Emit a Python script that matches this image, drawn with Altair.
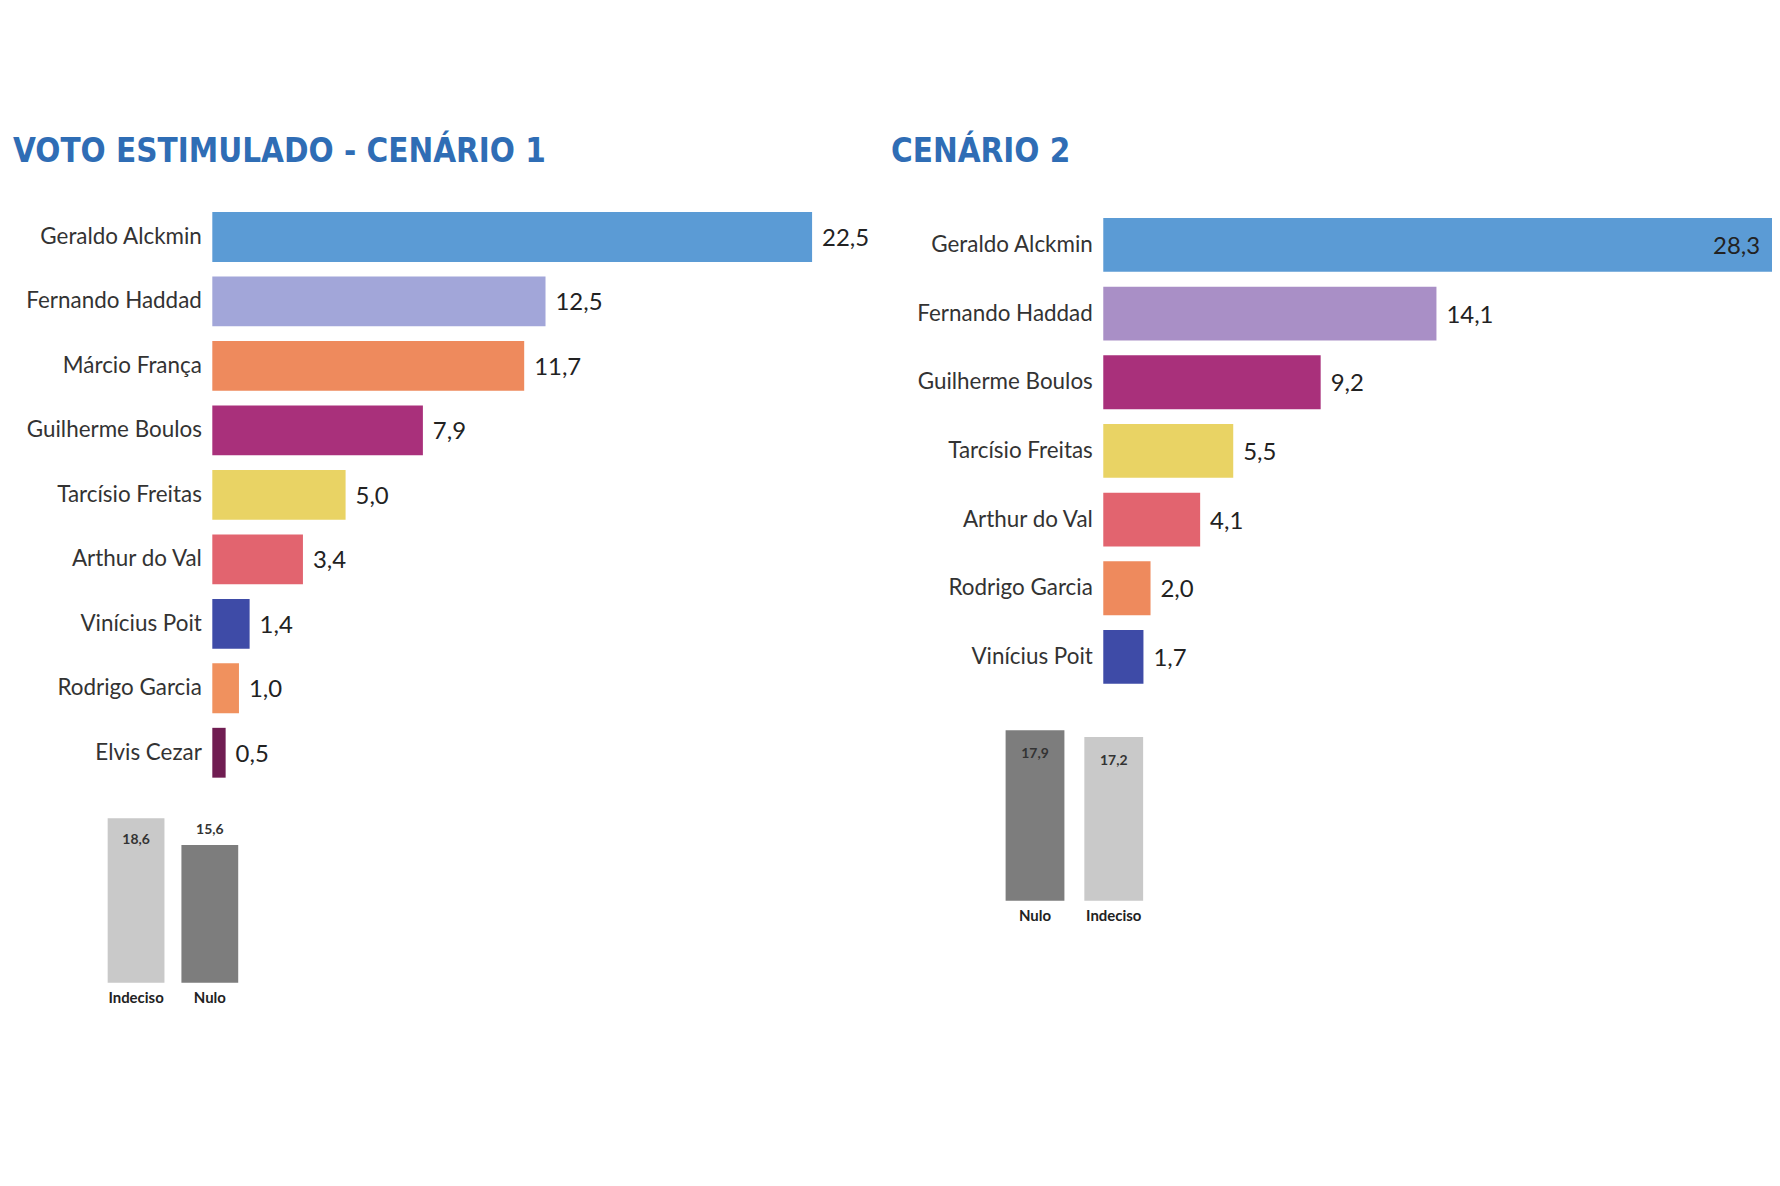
import altair as alt
import pandas as pd

# ---------------- data ----------------
title1 = "VOTO ESTIMULADO - CENÁRIO 1"
title2 = "CENÁRIO 2"

c1_names = ["Geraldo Alckmin", "Fernando Haddad", "Márcio França", "Guilherme Boulos",
            "Tarcísio Freitas", "Arthur do Val", "Vinícius Poit", "Rodrigo Garcia", "Elvis Cezar"]
c1_values = [22.5, 12.5, 11.7, 7.9, 5.0, 3.4, 1.4, 1.0, 0.5]
c1_other_names = ["Indeciso", "Nulo"]
c1_other_values = [18.6, 15.6]

c2_names = ["Geraldo Alckmin", "Fernando Haddad", "Guilherme Boulos", "Tarcísio Freitas",
            "Arthur do Val", "Rodrigo Garcia", "Vinícius Poit"]
c2_values = [28.3, 14.1, 9.2, 5.5, 4.1, 2.0, 1.7]
c2_other_names = ["Nulo", "Indeciso"]
c2_other_values = [17.9, 17.2]

# ---------------- styles ----------------
c1_colors = ["#5b9bd5", "#a2a6d9", "#ee8a5d", "#a9307b", "#e9d364", "#e2646f", "#3e4ba7", "#f0915e", "#701d52"]
c2_colors = ["#5b9bd5", "#a98fc6", "#a9307b", "#e9d364", "#e2646f", "#ee8a5d", "#3e4ba7"]
other_names_style = ["Indeciso", "Nulo"]
other_colors = ["#c9c9c9", "#7d7d7d"]
c1_other_inside = ["Indeciso"]
c2_other_inside = ["Nulo", "Indeciso"]

TITLE_FONT = "Liberation Sans Narrow, DejaVu Sans Condensed, sans-serif"
LABEL_FONT = "Lato"
TITLE_COLOR = "#2f6db5"


def fmt(v):
    return f"{v:.1f}".replace(".", ",")


def main_chart(names, values, colors, title, width, height, xmax,
               pad_inner, pad_outer, min_extent):
    df = pd.DataFrame({"name": names, "value": values,
                       "label": [fmt(v) for v in values]})
    y = alt.Y("name:N", sort=names,
              scale=alt.Scale(paddingInner=pad_inner, paddingOuter=pad_outer),
              axis=alt.Axis(title=None, ticks=False, domain=False, grid=False,
                            labelFont=LABEL_FONT, labelFontSize=22.5, labelColor="#333333",
                            labelPadding=11, minExtent=min_extent, labelLimit=400))
    x = alt.X("value:Q", scale=alt.Scale(domain=[0, xmax], nice=False), axis=None)
    base = alt.Chart(df).encode(y=y, x=x)
    bars = base.mark_bar().encode(
        color=alt.Color("name:N", scale=alt.Scale(domain=names, range=colors), legend=None)
    )
    thr = xmax * 0.95
    outside = base.mark_text(align="left", baseline="middle", dx=10, dy=2,
                             font=LABEL_FONT, fontSize=24, color="#222222").encode(
        text="label:N").transform_filter(f"datum.value <= {thr}")
    inside = base.mark_text(align="right", baseline="middle", dx=-12, dy=2,
                            font=LABEL_FONT, fontSize=24, color="#222222").encode(
        text="label:N").transform_filter(f"datum.value > {thr}")
    return alt.layer(bars, outside, inside).properties(
        width=width, height=height,
        title=alt.Title(title, anchor="start", frame="bounds", font=TITLE_FONT,
                        fontSize=33, fontWeight="bold", color=TITLE_COLOR, offset=33),
    )


def small_chart(names, values, inside_names, xrange, pad_inner, width, height, ymax, dy_in):
    df = pd.DataFrame({"kind": names, "value": values,
                       "label": [fmt(v) for v in values]})
    x = alt.X("kind:N", sort=names,
              scale=alt.Scale(range=xrange, paddingInner=pad_inner, paddingOuter=0),
              axis=alt.Axis(title=None, ticks=False, domain=False, grid=False, labelAngle=0,
                            labelFont=LABEL_FONT, labelFontSize=15, labelFontWeight="bold",
                            labelColor="#222222", labelPadding=8))
    y = alt.Y("value:Q", scale=alt.Scale(domain=[0, ymax], nice=False), axis=None)
    base = alt.Chart(df).encode(x=x, y=y)
    bars = base.mark_bar().encode(
        color=alt.Color("kind:N", scale=alt.Scale(domain=other_names_style, range=other_colors),
                        legend=None)
    )
    cond = " || ".join([f"datum.kind == '{n}'" for n in inside_names])
    inside = base.mark_text(baseline="top", dy=dy_in, font=LABEL_FONT, fontSize=14,
                            fontWeight="bold", color="#333333").encode(
        text="label:N").transform_filter(cond)
    outside = base.mark_text(baseline="alphabetic", dy=-11, font=LABEL_FONT, fontSize=14,
                             fontWeight="bold", color="#333333").encode(
        text="label:N").transform_filter(f"!({cond})")
    return alt.layer(bars, inside, outside).properties(width=width, height=height)


left_main = main_chart(c1_names, c1_values, c1_colors, title1, 662, 587.6, 24.75,
                       0.227, 0.155, 200)
left_small = small_chart(c1_other_names, c1_other_values, c1_other_inside,
                         [-105, 26], 0.23, 40, 177.4, 20, 15)
left = alt.vconcat(left_main, left_small, spacing=18).resolve_scale(color="independent")

right_main = main_chart(c2_names, c2_values, c2_colors, title2, 671, 499.4, 28.3,
                        0.216, 0.232, 213)
right_small = small_chart(c2_other_names, c2_other_values, c2_other_inside,
                          [-98, 40], 0.253, 40, 191, 20, 17)
right = alt.vconcat(right_main, right_small, spacing=10).resolve_scale(color="independent")

chart = alt.hconcat(left, right, spacing=19).resolve_scale(color="independent").properties(
    padding={"left": 5, "top": 127, "right": 0, "bottom": 5},
    background="white",
).configure_view(stroke=None)

chart.save("out.html", embed_options={"renderer": "svg", "actions": False})
